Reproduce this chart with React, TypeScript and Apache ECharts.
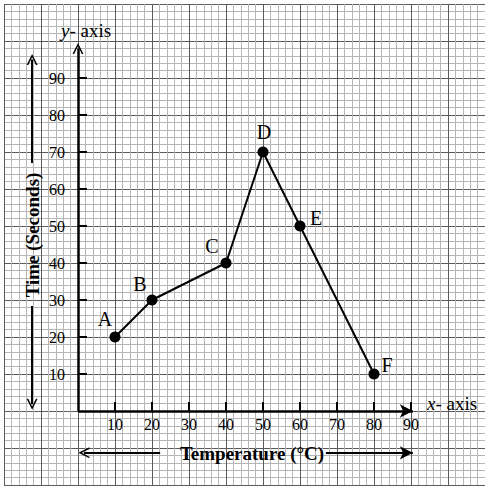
import { useEffect, useRef } from 'react';
import * as echarts from 'echarts';

// data
const temperatures = [10, 20, 40, 50, 60, 80];
const times = [20, 30, 40, 70, 50, 10];
const pointNames = ['A', 'B', 'C', 'D', 'E', 'F'];
const tickValues = [10, 20, 30, 40, 50, 60, 70, 80, 90];

// graph paper range (13 big squares each way)
const paperMin = -20;
const paperMax = 110;

// label nudges for A..F (pixels)
const labelOffsets = [[-10, -18], [-12, -16], [-14, -17], [1, -20], [16, -8], [13, -9]];

const serif = '"Liberation Serif", "Times New Roman", serif';
const chevron = 'path://M0,12 L6,0 L12,12 L10.2,12 L6,3.6 L1.8,12 Z';

const paperLeft = 4;
const paperTop = 4;
const paperSize = 481;
const pxPerUnit = paperSize / (paperMax - paperMin);

export default function App() {
  const chartRef = useRef<HTMLDivElement>(null);

  useEffect(() => {
    if (!chartRef.current) return;
    const chart = echarts.init(chartRef.current, null, { renderer: 'svg' });

    const originX = paperLeft - paperMin * pxPerUnit;
    const axisSpan = paperMax * pxPerUnit;

    const paperAxis = {
      type: 'value' as const,
      min: paperMin,
      max: paperMax,
      interval: 10,
      axisLine: { show: false },
      axisTick: { show: false },
      axisLabel: { show: false },
      splitLine: { show: true, lineStyle: { color: '#5a5a5a', width: 1 } },
      minorTick: { show: false, splitNumber: 5 },
      minorSplitLine: { show: true, lineStyle: { color: '#b6b6b6', width: 1 } },
    };

    const labelAxis = {
      type: 'value' as const,
      min: 0,
      max: paperMax,
      interval: 10,
      axisLine: { show: false },
      axisTick: {
        show: true,
        inside: true,
        length: 9,
        customValues: tickValues,
        lineStyle: { color: '#000', width: 2 },
      },
      axisLabel: {
        customValues: tickValues,
        color: '#000',
        fontFamily: serif,
        fontSize: 16,
      },
      splitLine: { show: false },
    };

    const titleStyle = {
      fontFamily: serif,
      fontSize: 19,
      fill: '#000',
      rich: { i: { fontStyle: 'italic', fontFamily: serif, fontSize: 19 } },
    };

    const boldTitle = {
      fontFamily: serif,
      fontWeight: 'bold',
      fontSize: 19,
      fill: '#000',
      align: 'center',
      verticalAlign: 'middle',
    };

    chart.setOption({
      animation: false,
      backgroundColor: '#fff',
      grid: [
        {
          left: paperLeft,
          top: paperTop,
          width: paperSize,
          height: paperSize,
          containLabel: false,
          outerBoundsMode: 'none',
        },
        {
          left: originX,
          top: paperTop,
          width: axisSpan,
          height: axisSpan,
          containLabel: false,
          outerBoundsMode: 'none',
        },
      ],
      xAxis: [
        { ...paperAxis, gridIndex: 0 },
        { ...labelAxis, gridIndex: 1, position: 'bottom', axisLabel: { ...labelAxis.axisLabel, margin: 5 } },
      ],
      yAxis: [
        { ...paperAxis, gridIndex: 0 },
        {
          ...labelAxis,
          gridIndex: 1,
          position: 'left',
          axisLabel: { ...labelAxis.axisLabel, margin: 13 },
        },
      ],
      graphic: [
        { type: 'text', left: 61, top: 21, z: 100, style: { ...titleStyle, text: '{i|y}- axis' } },
        { type: 'text', left: 427, top: 394, z: 100, style: { ...titleStyle, text: '{i|x}- axis' } },
        { type: 'text', x: 252, y: 453, z: 100, style: { ...boldTitle, text: 'Temperature (°C)' } },
        {
          type: 'text',
          x: 32,
          y: 235,
          z: 100,
          rotation: Math.PI / 2,
          style: { ...boldTitle, text: 'Time (Seconds)' },
        },
      ],
      series: [
        {
          type: 'line',
          xAxisIndex: 0,
          yAxisIndex: 0,
          data: temperatures.map((t, i) => ({
            value: [t, times[i]],
            label: { offset: labelOffsets[i] },
          })),
          symbol: 'circle',
          symbolSize: 11,
          lineStyle: { color: '#000', width: 2 },
          itemStyle: { color: '#000' },
          label: {
            show: true,
            position: 'inside',
            formatter: (p: any) => pointNames[p.dataIndex],
            color: '#000',
            fontFamily: serif,
            fontSize: 20,
          },
          z: 5,
          markLine: {
            silent: true,
            animation: false,
            label: { show: false },
            symbol: ['none', 'none'],
            lineStyle: { color: '#000', width: 2.5, type: 'solid' },
            emphasis: { disabled: true },
            data: [
              // x axis
              [{ coord: [0, 0], symbol: 'none' }, { coord: [90.5, 0], symbol: 'arrow', symbolSize: [10, 13] }],
              // y axis
              [{ coord: [0, 0], symbol: 'none' }, { coord: [0, 98], symbol: chevron, symbolSize: [11, 11] }],
              // Time arrows
              [
                { coord: [-12.4, 67], symbol: 'none', lineStyle: { width: 2 } },
                { coord: [-12.4, 95], symbol: chevron, symbolSize: [11, 11] },
              ],
              [
                { coord: [-12.4, 28.4], symbol: 'none', lineStyle: { width: 2 } },
                { coord: [-12.4, 1.8], symbol: chevron, symbolSize: [11, 11] },
              ],
              // Temperature arrows
              [
                { coord: [22.2, -11.3], symbol: 'none', lineStyle: { width: 2 } },
                { coord: [1.6, -11.3], symbol: chevron, symbolSize: [11, 11] },
              ],
              [
                { coord: [67, -11.3], symbol: 'none', lineStyle: { width: 2 } },
                { coord: [90.5, -11.3], symbol: 'arrow', symbolSize: [10, 13] },
              ],
            ],
          },
        },
      ],
    });

    return () => {
      chart.dispose();
    };
  }, []);

  return (
    <div
      ref={chartRef}
      style={{ position: 'fixed', left: 0, top: 0, width: 485, height: 490, background: '#fff' }}
    />
  );
}
